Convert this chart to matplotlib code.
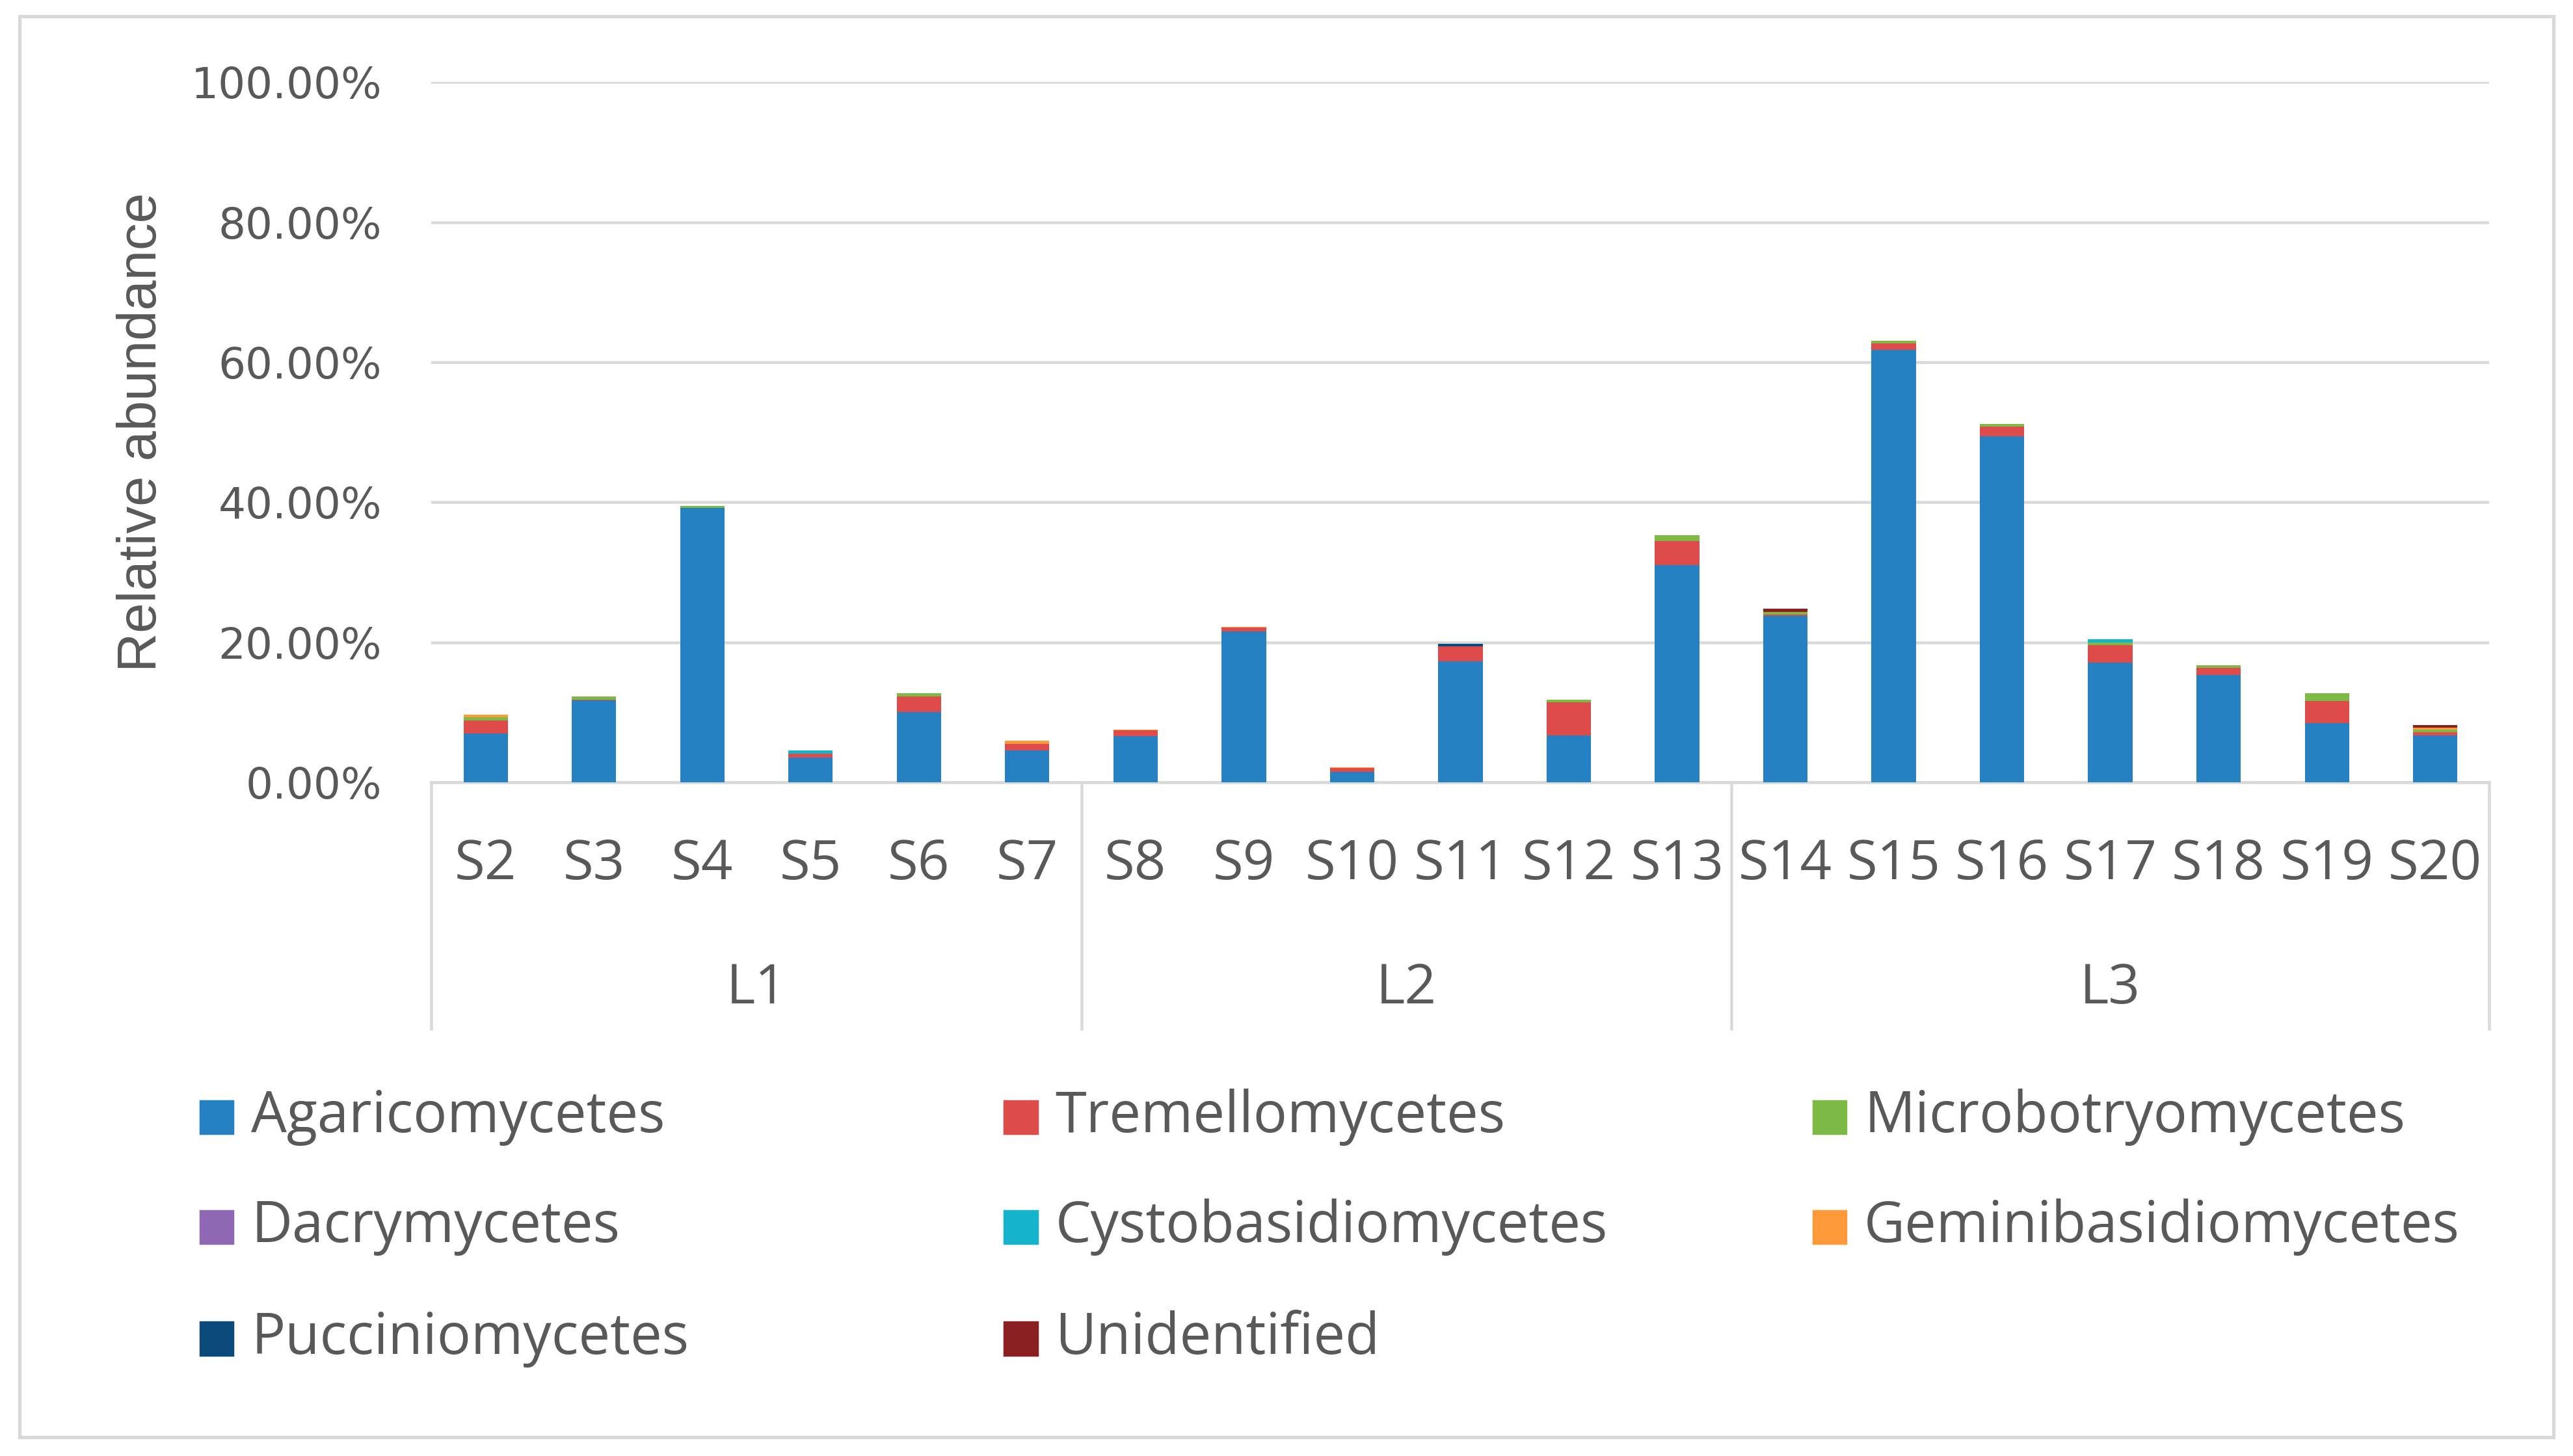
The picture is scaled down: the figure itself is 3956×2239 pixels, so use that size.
import matplotlib.pyplot as plt
from matplotlib.patches import Rectangle
from matplotlib.ticker import FuncFormatter
import numpy as np

# sample names and groups
samples = ["S2", "S3", "S4", "S5", "S6", "S7",
           "S8", "S9", "S10", "S11", "S12", "S13",
           "S14", "S15", "S16", "S17", "S18", "S19", "S20"]
groups = ["L1", "L2", "L3"]
group_sizes = [6, 6, 7]

# relative abundance (%) per class
agaricomycetes = [7.05, 11.7, 39.2, 3.6, 10.1, 4.55,
                  6.6, 21.6, 1.55, 17.35, 6.7, 31.0,
                  23.8, 61.8, 49.4, 17.1, 15.4, 8.5, 6.75]
tremellomycetes = [1.8, 0.1, 0.0, 0.5, 2.2, 0.95,
                   0.9, 0.5, 0.5, 2.1, 4.8, 3.5,
                   0.2, 0.9, 1.4, 2.5, 1.0, 3.15, 0.4]
microbotryomycetes = [0.5, 0.5, 0.3, 0.0, 0.5, 0.0,
                      0.0, 0.0, 0.0, 0.0, 0.35, 0.8,
                      0.4, 0.35, 0.35, 0.4, 0.35, 1.1, 0.4]
dacrymycetes = [0.0, 0.0, 0.0, 0.0, 0.0, 0.0,
                0.0, 0.0, 0.0, 0.0, 0.0, 0.0,
                0.0, 0.0, 0.0, 0.0, 0.0, 0.0, 0.0]
cystobasidiomycetes = [0.0, 0.0, 0.0, 0.45, 0.0, 0.0,
                       0.0, 0.0, 0.0, 0.0, 0.0, 0.0,
                       0.0, 0.0, 0.0, 0.5, 0.0, 0.0, 0.0]
geminibasidiomycetes = [0.35, 0.0, 0.0, 0.0, 0.0, 0.45,
                        0.1, 0.15, 0.1, 0.0, 0.0, 0.0,
                        0.0, 0.0, 0.0, 0.0, 0.0, 0.0, 0.25]
pucciniomycetes = [0.0, 0.0, 0.0, 0.0, 0.0, 0.0,
                   0.0, 0.0, 0.0, 0.4, 0.0, 0.0,
                   0.0, 0.0, 0.0, 0.0, 0.0, 0.0, 0.0]
unidentified = [0.0, 0.0, 0.0, 0.0, 0.0, 0.0,
                0.0, 0.0, 0.0, 0.0, 0.0, 0.0,
                0.4, 0.0, 0.0, 0.0, 0.0, 0.0, 0.4]

classes = ["Agaricomycetes", "Tremellomycetes", "Microbotryomycetes",
           "Dacrymycetes", "Cystobasidiomycetes", "Geminibasidiomycetes",
           "Pucciniomycetes", "Unidentified"]
series = [agaricomycetes, tremellomycetes, microbotryomycetes, dacrymycetes,
          cystobasidiomycetes, geminibasidiomycetes, pucciniomycetes, unidentified]
colors = ["#2681C2", "#DE4B4B", "#7DBA45", "#8E68B3",
          "#16B4CC", "#FF9A3A", "#0B4A7A", "#8B2020"]

text_col = "#595959"
grid_col = "#D9D9D9"
plt.rcParams['font.family'] = ['Open Sans', 'DejaVu Sans']

fig = plt.figure(figsize=(15.824, 8.956), dpi=250)
ax = fig.add_axes([0.1677, 0.4625, 0.7998, 0.4812])

x = np.arange(len(samples))
bottom = np.zeros(len(samples))
for name, vals, c in zip(classes, series, colors):
    vals = np.array(vals)
    ax.bar(x, vals, width=0.41, bottom=bottom, color=c, label=name, zorder=3)
    bottom += vals

ax.set_xlim(-0.5, len(samples) - 0.5)
ax.set_ylim(0, 100)
ax.set_yticks(np.arange(0, 101, 20))
ax.yaxis.set_major_formatter(FuncFormatter(lambda v, p: f"{v:.2f}%"))
ax.grid(axis='y', color=grid_col, linewidth=1.3, zorder=0)
for s in ["top", "right", "left"]:
    ax.spines[s].set_visible(False)
ax.spines["bottom"].set_color(grid_col)
ax.spines["bottom"].set_linewidth(1.3)
ax.tick_params(axis='y', length=0, pad=22, labelsize=19, labelcolor=text_col)
for lbl in ax.get_yticklabels():
    lbl.set_family(['DejaVu Sans'])
ax.set_xticks([])

ax.set_ylabel("Relative abundance", fontsize=24, color=text_col,
              family=['Liberation Sans', 'DejaVu Sans'])
ax.yaxis.set_label_coords(-0.1283, 0.5)

# category axis: samples and groups
trans = ax.get_xaxis_transform()
for i, s in enumerate(samples):
    ax.text(i, -0.117, s, transform=trans, ha='center', va='center',
            fontsize=24.5, color=text_col)
edges = np.concatenate([[0], np.cumsum(group_sizes)]) - 0.5
for xe in edges:
    ax.plot([xe, xe], [0, -0.351], transform=trans, color=grid_col,
            linewidth=1.3, clip_on=False)
for g, a, b in zip(groups, edges[:-1], edges[1:]):
    ax.text((a + b) / 2, -0.295, g, transform=trans, ha='center', va='center',
            fontsize=24.5, color=text_col)

# legend laid out in rows, three columns
W, H = 1568.0, 887.5
col_x = [122, 612, 1105]
row_y = [681, 748, 816]
for k, (name, c) in enumerate(zip(classes, colors)):
    cx = col_x[k % 3]
    cy = row_y[k // 3]
    fig.patches.append(Rectangle((cx / W, 1 - (cy + 10) / H), 20 / W, 20 / H,
                                 transform=fig.transFigure, color=c))
    fig.text((cx + 31) / W, 1 - cy / H, name, ha='left', va='center',
             fontsize=25, color=text_col)

# outer frame
fig.patches.append(Rectangle((12 / W, 1 - 876 / H), 1544 / W, 866 / H,
                             transform=fig.transFigure, fill=False,
                             edgecolor=grid_col, linewidth=1.5))

fig.savefig("out.png", dpi=250, facecolor="white")
